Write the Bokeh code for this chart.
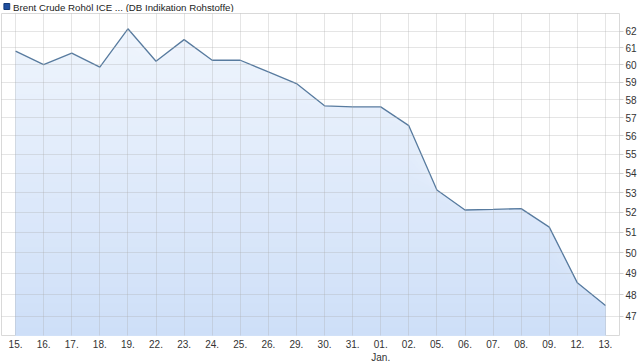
import numpy as np
from bokeh.plotting import figure
from bokeh.layouts import column
from bokeh.models import Range1d, FixedTicker, NumeralTickFormatter
from bokeh.core.properties import value
from bokeh.embed import file_html
from bokeh.resources import INLINE

# ---- data ----
dates = ["15.", "16.", "17.", "18.", "19.", "22.", "23.", "24.", "25.", "26.", "29.",
         "30.", "31.", "01.", "02.", "05.", "06.", "07.", "08.", "09.", "12.", "13."]
month_marks = {"01.": "Jan."}
prices = [60.81, 60.01, 60.69, 59.87, 62.14, 60.21, 61.49, 60.27, 60.27, 59.59, 58.92,
          57.66, 57.60, 57.60, 56.56, 53.13, 52.11, 52.14, 52.18, 51.25, 48.55, 47.49]
y_ticks = [47, 48, 49, 50, 51, 52, 53, 54, 55, 56, 57, 58, 59, 60, 61, 62]
series_name = "Brent Crude Rohöl ICE ... (DB Indikation Rohstoffe)"

FONT = "Liberation Sans"
FW, FH = 618, 322
TOTAL_W = 636
HEAD_H = 12
n = len(prices)
x = np.arange(n)
y = np.array(prices)
y_lo, y_hi = 46.13, 63.07

# ---- header figure holding the legend ----
h = figure(width=TOTAL_W, height=HEAD_H, output_backend="svg", toolbar_location=None,
           x_range=Range1d(0, TOTAL_W), y_range=Range1d(HEAD_H, 0),
           min_border=0, x_axis_type=None, y_axis_type=None)
h.outline_line_color = None
h.grid.visible = False
h.background_fill_color = "white"
h.border_fill_color = "white"
h.rect(x=[5.5], y=[6], width=6, height=6, fill_color="#1f4f9f", line_color="#133a78")
h.text(x=[12], y=[6.5], text=[series_name], text_font=value(FONT), text_font_size="9.7px",
       text_color="#222222", text_baseline="middle", text_align="left")

# ---- main figure ----
p = figure(frame_width=FW, frame_height=FH, output_backend="svg", toolbar_location=None,
           y_axis_type="log", y_axis_location="right",
           x_range=Range1d(-0.5, n - 0.5), y_range=Range1d(y_lo, y_hi),
           min_border_left=1, min_border_right=0, min_border_top=1, min_border_bottom=0)
p.background_fill_color = "white"
p.border_fill_color = "white"
p.outline_line_color = "#d9d9d9"

# gradient-like area fill (opaque bands, lighter at top)
c_top = np.array([241, 246, 253])
c_bot = np.array([206, 223, 248])
nl = 40
fr = np.linspace(0, 1, nl + 1)
levels = np.exp(np.log(y_hi) + fr * (np.log(y_lo) - np.log(y_hi)))
bottom = np.full(n, y_lo)
for k in range(nl):
    c = c_top + (c_bot - c_top) * (k + 0.5) / nl
    col = "#%02x%02x%02x" % tuple(int(round(v)) for v in c)
    p.varea(x=x, y1=bottom, y2=np.minimum(y, levels[k]), fill_color=col)

line_r = p.line(x=x, y=y, line_color="#587b9f", line_width=1.3)

# axes
xt = FixedTicker(ticks=list(range(n)))
p.xaxis.ticker = xt
p.xgrid.ticker = xt
p.xaxis.major_label_overrides = {
    i: (d + "\n" + month_marks[d]) if d in month_marks else d for i, d in enumerate(dates)
}
yt = FixedTicker(ticks=y_ticks)
p.yaxis.ticker = yt
p.ygrid.ticker = yt
p.yaxis.formatter = NumeralTickFormatter(format="0")

for ax in (p.xaxis[0], p.yaxis[0]):
    ax.axis_line_color = None
    ax.minor_tick_line_color = None
    ax.major_label_text_font = FONT
    ax.major_label_text_font_size = "10px"
    ax.major_label_text_color = "#333333"

p.xaxis.major_tick_line_color = None
p.xaxis.major_tick_in = 0
p.xaxis.major_tick_out = 0
p.xaxis.major_label_standoff = 3
p.yaxis.major_tick_line_color = "#d0d0d0"
p.yaxis.major_tick_in = 0
p.yaxis.major_tick_out = 4
p.yaxis.major_label_standoff = 2

for g in (p.xgrid[0], p.ygrid[0]):
    g.grid_line_color = "#a8a8a8"
    g.grid_line_alpha = 0.3
    g.level = "overlay"
line_r.level = "overlay"

layout = column(h, p, spacing=0)
open("out.html", "w").write(file_html(layout, INLINE))
